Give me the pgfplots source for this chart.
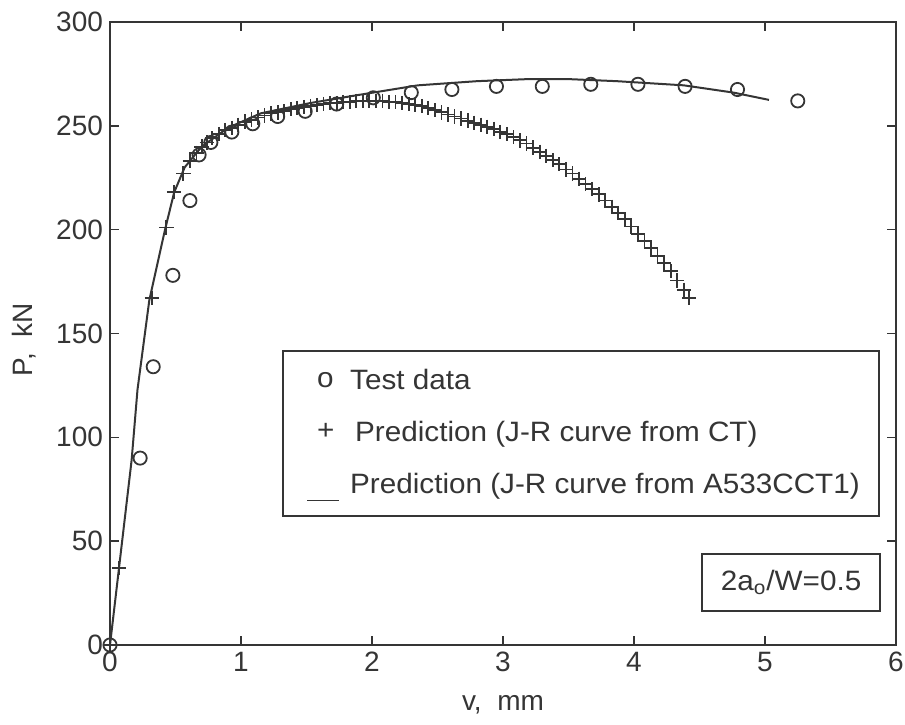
\documentclass[border=0pt]{standalone}
\usepackage{fontspec}
\setmainfont{Liberation Sans}
\newfontfamily\legfont[FakeStretch=1.06]{Liberation Sans}
\usepackage{pgfplots}
\pgfplotsset{compat=1.18}
\definecolor{ink}{HTML}{353535}

\pgfplotstableread{
x y
0 0
0.23 90
0.33 134
0.48 178
0.61 214
0.68 236
0.77 242
0.93 247
1.09 251
1.28 254.5
1.49 257
1.73 260.5
2.01 263.5
2.30 266
2.61 267.5
2.95 269
3.30 269
3.67 270
4.03 270
4.39 269
4.79 267.5
5.25 262
}\testdata

\pgfplotstableread{
x y
0 0
0.07 37
0.32 167
0.43 201
0.49 218
0.56 227
0.61 233
0.66 237
0.70 240
0.74 242
0.78 244
0.83 246
0.88 248
0.93 249
0.98 250.5
1.03 252
1.08 253
1.13 254
1.18 255
1.23 256
1.28 256.5
1.33 257
1.38 258
1.43 258.5
1.48 259
1.53 259.5
1.58 260
1.63 260.5
1.68 261
1.73 261
1.78 261.5
1.83 261.5
1.88 262
1.93 262
1.98 262
2.03 262
2.08 262
2.13 261.5
2.18 261.5
2.23 261
2.28 260.5
2.33 260
2.38 259.5
2.43 258.5
2.48 257.5
2.53 256.5
2.58 255.5
2.63 254.5
2.68 253.5
2.73 252.5
2.78 251.5
2.83 250.5
2.88 249.5
2.93 248.5
2.98 247
3.03 246
3.08 244.5
3.13 243
3.18 241.5
3.23 239.5
3.28 237.5
3.33 235.5
3.38 233.5
3.43 231.5
3.48 229
3.53 227
3.58 224.5
3.63 222
3.68 219.5
3.73 217
3.78 214
3.83 211
3.88 208
3.93 205
3.98 201.5
4.03 198
4.08 194.5
4.13 191
4.18 187.5
4.23 184
4.28 180
4.33 175.5
4.38 171
4.42 167
}\ctpred

\pgfplotstableread{
x y
0 0
0.165 89
0.21 123
0.30 166
0.42 200
0.49 218
0.57 230
0.70 240
0.90 249
1.15 256
1.53 261
1.91 265
2.35 269.5
2.80 271.5
3.19 272.5
3.50 272.5
3.87 271.5
4.38 269.5
4.76 266
5.03 262.5
}\cctpred

\begin{document}
\begin{tikzpicture}
\useasboundingbox (-55pt,-39.5pt) rectangle (397.5pt,322.5pt);
\begin{axis}[
  at={(0,0)}, anchor=south west,
  scale only axis, width=393pt, height=311.5pt,
  xmin=0, xmax=6, ymin=0, ymax=300,
  xtick={0,1,...,6}, ytick={0,50,...,300},
  tick align=inside, major tick length=4.5pt,
  axis line style={ink, line width=0.9pt},
  every tick/.style={ink, line width=0.8pt},
  tick label style={font=\fontsize{14}{16}\selectfont, text=ink},
  /pgf/number format/assume math mode=true,
  xlabel={v,\ \ mm}, ylabel={P,\ \ kN},
  every axis x label/.style={at={([yshift=-30pt]axis description cs:0.5,0)}, anchor=center, font=\fontsize{14}{16}\selectfont, text=ink},
  every axis y label/.style={at={([xshift=-43pt]axis description cs:0,0.49)}, anchor=center, rotate=90, font=\fontsize{14}{16}\selectfont, text=ink},
  legend style={at={(axis cs:1.315,141.9)}, anchor=north west, draw=ink, line width=0.9pt,
    font=\legfont\fontsize{14}{16}\selectfont, text=ink, inner xsep=7.5pt, inner ysep=7.2pt, row sep=10.2pt},
  legend cell align=left,
]
\addplot[only marks, mark=o, mark size=3.3pt, ink, line width=0.9pt,
  legend image code/.code={\path (0pt,0pt) (23pt,0pt); \node[inner sep=0pt, text=ink, font=\legfont\fontsize{14}{16}\selectfont] at (8.5pt,0pt) {o};}]
  table[x=x,y=y] {\testdata};
\addlegendentry{Test data}
\addplot[only marks, mark=+, mark size=3.6pt, ink, line width=0.9pt,
  legend image code/.code={\path (0pt,0pt) (23pt,0pt); \node[inner sep=0pt, text=ink, font=\legfont\fontsize{14}{16}\selectfont] at (8.5pt,0pt) {+};}]
  table[x=x,y=y] {\ctpred};
\addlegendentry{\hspace{2.5pt}Prediction (J-R curve from CT)}
\addplot[no marks, ink, line width=1pt,
  legend image code/.code={\path (0pt,0pt) (23pt,0pt); \draw[ink, line width=0.8pt] (4pt,-8pt) -- (20pt,-8pt);}]
  table[x=x,y=y] {\cctpred};
\addlegendentry{Prediction (J-R curve from A533CCT1)}
\node[draw=ink, line width=0.9pt, anchor=north east, minimum width=89pt, minimum height=28.5pt,
  font=\legfont\fontsize{14}{16}\selectfont, text=ink] at (axis cs:5.885,44.3) {2a\textsubscript{o}/W=0.5};
\end{axis}
\end{tikzpicture}
\end{document}
